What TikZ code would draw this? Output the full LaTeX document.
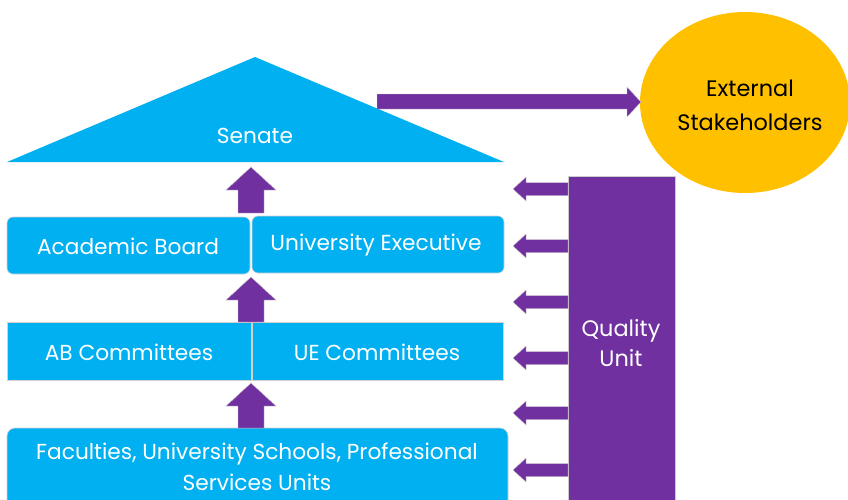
\documentclass[tikz,border=0pt]{standalone}
\usepackage{fontspec}
\setmainfont{Poppins}
\usetikzlibrary{shapes.geometric}
\definecolor{cyanb}{HTML}{00B0F0}
\definecolor{purp}{HTML}{7030A0}
\definecolor{gold}{HTML}{FFC000}
\tikzset{
  box/.style={fill=cyanb, draw=gray!35, line width=0.6pt},
  txt/.style={text=white, font=\fontsize{21.7}{32}\selectfont, align=center, inner sep=0pt},
  barrow/.style={fill=purp, draw=gray!40, line width=0.4pt},
}
\begin{document}
\begin{tikzpicture}[x=1pt,y=-1pt]
\useasboundingbox (0,0) rectangle (848,499);
\clip (0,0) rectangle (848,499);
% Senate roof
\fill[cyanb] (7,162) -- (255,57) -- (504,162) -- cycle;
\node[txt] (senate) at (255,136) {Senate};
% External stakeholders
\node[ellipse, fill=gold, minimum width=210pt, minimum height=181pt, inner sep=0pt] (ext) at (745,102.5) {};
\node[text=black, font=\fontsize{22.4}{34}\selectfont, align=center, inner sep=0pt] (extt) at (750,105) {External\\Stakeholders};
% arrow to external
\path[barrow] (377,94) -- (627,94) -- (627,87) -- (641,102) -- (627,117) -- (627,109) -- (377,109) -- cycle;
% boxes
\draw[box, rounded corners=6pt] (7,217) rectangle (250,274);
\node[txt] (ab) at (128,246) {Academic Board};
\draw[box, rounded corners=6pt] (252,216) rectangle (504,273);
\node[txt] (ue) at (376,245) {University Executive};
\draw[box] (7,322) rectangle (251,380);
\node[txt] (abc) at (129,352) {AB Committees};
\draw[box] (252,322) rectangle (503,380);
\node[txt] (uec) at (377,352) {UE Committees};
\draw[box, rounded corners=8pt] (7,428) rectangle (508,520);
\node[txt, font=\fontsize{21.7}{31}\selectfont] (fac) at (257,467) {Faculties, University Schools, Professional\\Services Units};
% up arrows
\foreach \t/\h/\b in {167/190/213, 277/300/322, 383/406/428}{
  \path[barrow] (251,\t) -- (276,\h) -- (264,\h) -- (264,\b) -- (238,\b) -- (238,\h) -- (226,\h) -- cycle;
}
% quality unit
\draw[fill=purp, draw=gray!40, line width=0.5pt] (568,176) rectangle (675,520);
\node[txt, font=\fontsize{22.4}{30}\selectfont] (qu) at (621,343) {Quality\\Unit};
% left arrows
\foreach \c in {189,246,302,358,413,470}{
  \path[barrow] (513,\c) -- (526,\c-12) -- (526,\c-6.5) -- (568,\c-6.5) -- (568,\c+6.5) -- (526,\c+6.5) -- (526,\c+12) -- cycle;
}
\end{tikzpicture}
\end{document}
